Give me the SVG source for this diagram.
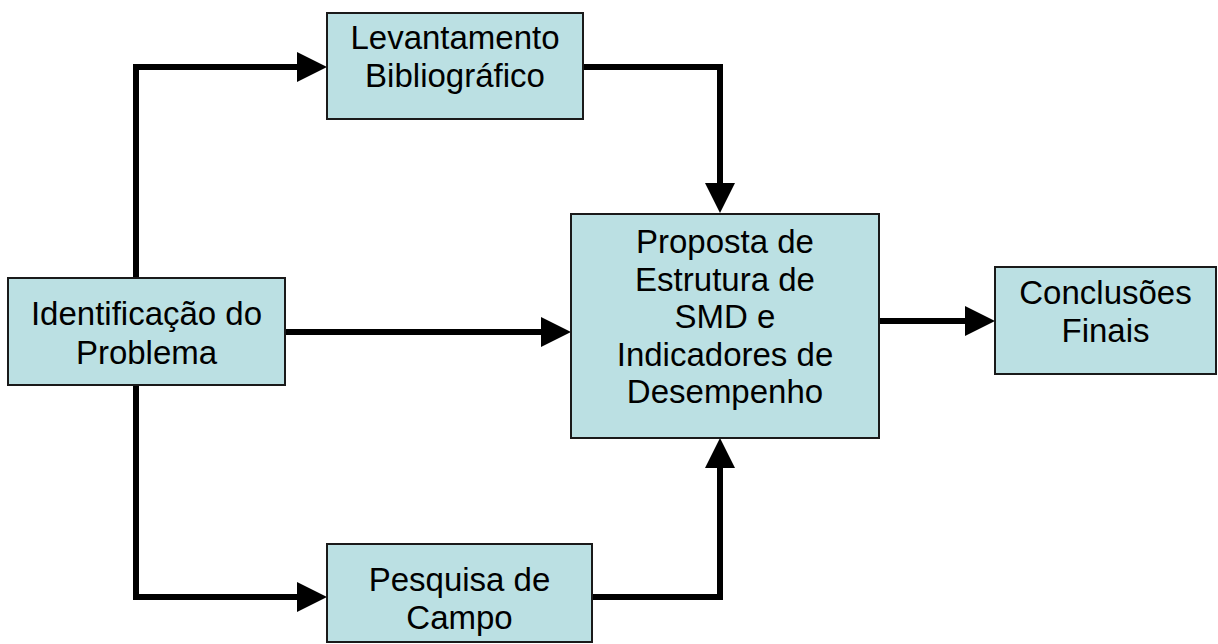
<svg xmlns="http://www.w3.org/2000/svg" width="1218" height="644" viewBox="0 0 1218 644">
<style>
.box{fill:#BBE0E3;stroke:#1a1a1a;stroke-width:2}
.lbl{font-family:"Liberation Sans",Arial,sans-serif;font-size:33px;fill:#000;text-anchor:middle}
.con{fill:none;stroke:#000;stroke-width:6;stroke-linejoin:miter;stroke-linecap:butt}
</style>
<defs>
<marker id="ah" markerUnits="userSpaceOnUse" markerWidth="30" markerHeight="30" refX="0" refY="15" orient="auto" overflow="visible">
<path d="M0,0 L30,15 L0,30 Z" fill="#000"/>
</marker>
</defs>
<rect width="1218" height="644" fill="#fff"/>
<g id="connectors">
<path class="con" d="M136,279 V67 H297" marker-end="url(#ah)"/>
<path class="con" d="M136,384 V597 H297" marker-end="url(#ah)"/>
<path class="con" d="M285,332 H541" marker-end="url(#ah)"/>
<path class="con" d="M583,67 H720 V183" marker-end="url(#ah)"/>
<path class="con" d="M592,597 H720 V468" marker-end="url(#ah)"/>
<path class="con" d="M879,321 H965" marker-end="url(#ah)"/>
</g>
<g id="levantamento">
<rect class="box" x="327" y="13" width="256" height="106"/>
<text class="lbl" x="455" y="49">Levantamento</text>
<text class="lbl" x="455" y="87">Bibliográfico</text>
</g>
<g id="identificacao">
<rect class="box" x="8" y="278" width="277" height="107"/>
<text class="lbl" x="146.5" y="325">Identificação do</text>
<text class="lbl" x="146.5" y="364">Problema</text>
</g>
<g id="proposta">
<rect class="box" x="571" y="214" width="308" height="224"/>
<text class="lbl" x="725" y="253">Proposta de</text>
<text class="lbl" x="725" y="291">Estrutura de</text>
<text class="lbl" x="725" y="328">SMD e</text>
<text class="lbl" x="725" y="366">Indicadores de</text>
<text class="lbl" x="725" y="403">Desempenho</text>
</g>
<g id="conclusoes">
<rect class="box" x="995" y="267" width="221" height="107"/>
<text class="lbl" x="1105.5" y="304">Conclusões</text>
<text class="lbl" x="1105.5" y="342">Finais</text>
</g>
<g id="pesquisa">
<rect class="box" x="327" y="544" width="265" height="98"/>
<text class="lbl" x="459.5" y="591">Pesquisa de</text>
<text class="lbl" x="459.5" y="629">Campo</text>
</g>
</svg>
